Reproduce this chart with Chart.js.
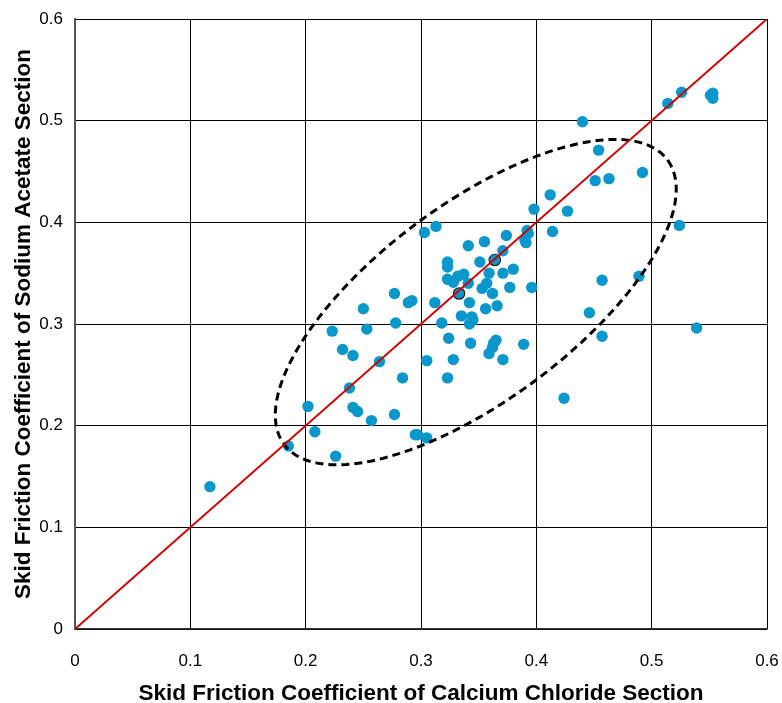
<!DOCTYPE html>
<html>
<head>
<meta charset="utf-8">
<script src="https://cdn.jsdelivr.net/npm/chart.js@4"></script>
<style>
  body { margin: 0; background: #fff; }
  #wrap { width: 782px; height: 703px; }
</style>
</head>
<body>
<div id="wrap"><canvas id="chart"></canvas></div>
<script>
// calcium chloride section (x) vs sodium acetate section (y)
const calciumX = [
  0.117, 0.185, 0.202, 0.208, 0.226, 0.223, 0.232, 0.241, 0.238, 0.241,
  0.245, 0.250, 0.253, 0.257, 0.264, 0.277, 0.278, 0.277, 0.284, 0.289,
  0.292, 0.295, 0.297, 0.303, 0.305, 0.305, 0.313, 0.312, 0.318, 0.323,
  0.323, 0.323, 0.323, 0.328, 0.324, 0.328, 0.332, 0.337, 0.335, 0.341,
  0.341, 0.342, 0.343, 0.344, 0.345, 0.342, 0.351, 0.355, 0.353, 0.357,
  0.356, 0.359, 0.362, 0.366, 0.365, 0.363, 0.362, 0.359, 0.371, 0.371,
  0.371, 0.374, 0.377, 0.380, 0.389, 0.392, 0.393, 0.390, 0.391, 0.396,
  0.398, 0.412, 0.414, 0.427, 0.424, 0.440, 0.446, 0.451, 0.454, 0.457,
  0.457, 0.463, 0.489, 0.492, 0.514, 0.526, 0.524, 0.539, 0.551, 0.553,
  0.553
];
const acetateY = [
  0.140, 0.180, 0.219, 0.194, 0.170, 0.293, 0.275, 0.269, 0.237, 0.218,
  0.214, 0.315, 0.295, 0.205, 0.263, 0.330, 0.301, 0.211, 0.247, 0.321,
  0.323, 0.191, 0.191, 0.390, 0.188, 0.264, 0.396, 0.321, 0.301, 0.247,
  0.361, 0.356, 0.344, 0.341, 0.286, 0.265, 0.347, 0.349, 0.308, 0.377,
  0.340, 0.321, 0.281, 0.307, 0.304, 0.300, 0.361, 0.381, 0.335, 0.340,
  0.315, 0.350, 0.330, 0.318, 0.284, 0.281, 0.277, 0.271, 0.372, 0.350,
  0.265, 0.387, 0.336, 0.354, 0.280, 0.392, 0.389, 0.383, 0.380, 0.336,
  0.413, 0.427, 0.391, 0.411, 0.227, 0.499, 0.311, 0.441, 0.471, 0.343,
  0.288, 0.443, 0.347, 0.449, 0.517, 0.528, 0.397, 0.296, 0.525, 0.527,
  0.522
];
// two points drawn with a dark outline
const outlinedX = [0.333, 0.364];
const outlinedY = [0.330, 0.363];

const refLine = [0, 0.6];
const ticks = [0, 0.1, 0.2, 0.3, 0.4, 0.5, 0.6];

// dashed ellipse: centre, major and minor semi-axis vectors (data units)
const ellCenter = [0.3475, 0.3215];
const ellMajor = [0.1665, 0.1395];
const ellMinor = [0.050, -0.0785];

const points = calciumX.map((x, i) => ({ x: x, y: acetateY[i] }));
const outlined = outlinedX.map((x, i) => ({ x: x, y: outlinedY[i] }));
const diag = refLine.map(v => ({ x: v, y: v }));

const ellipse = [];
for (let k = 0; k <= 120; k++) {
  const t = (k / 120) * Math.PI * 2;
  ellipse.push({
    x: ellCenter[0] + Math.cos(t) * ellMajor[0] + Math.sin(t) * ellMinor[0],
    y: ellCenter[1] + Math.cos(t) * ellMajor[1] + Math.sin(t) * ellMinor[1],
  });
}

const blue = "#0a98cc";
const fontFam = "Liberation Sans, Arial";

new Chart(document.getElementById("chart"), {
  type: "scatter",
  data: {
    datasets: [
      {
        data: diag,
        showLine: true,
        borderColor: "#d40000",
        borderWidth: 2,
        pointRadius: 0,
        order: 0,
      },
      {
        data: ellipse,
        showLine: true,
        borderColor: "#000",
        borderWidth: 3,
        borderDash: [8, 5],
        pointRadius: 0,
        tension: 0,
        order: 0,
      },
      {
        data: points,
        backgroundColor: blue,
        borderWidth: 0,
        pointRadius: 5.7,
        order: 2,
      },
      {
        data: outlined,
        backgroundColor: blue,
        borderColor: "#222",
        borderWidth: 1.2,
        pointRadius: 5.7,
        order: 1,
      },
    ],
  },
  options: {
    responsive: true,
    maintainAspectRatio: false,
    animation: false,
    layout: { padding: { top: 19, right: 15, left: 0, bottom: 0 } },
    plugins: {
      legend: { display: false },
      tooltip: { enabled: false },
    },
    scales: {
      x: {
        type: "linear",
        min: 0,
        max: 0.6,
        afterBuildTicks: (s) => { s.ticks = ticks.map(v => ({ value: v })); },
        afterFit: (s) => { s.height = 74; s.paddingLeft = 0; s.paddingRight = 0; },
        border: { color: "#333", width: 1.5 },
        grid: { color: "#000", lineWidth: 1, drawTicks: false },
        ticks: {
          padding: 22,
          color: "#000",
          font: { family: fontFam, size: 17 },
          callback: (v) => String(v),
        },
        title: {
          display: true,
          text: "Skid Friction Coefficient of Calcium Chloride Section",
          color: "#000",
          font: { family: fontFam, size: 22.5, weight: "bold" },
          padding: { top: 3, bottom: -4 },
        },
      },
      y: {
        type: "linear",
        min: 0,
        max: 0.6,
        afterBuildTicks: (s) => { s.ticks = ticks.map(v => ({ value: v })); },
        afterFit: (s) => { s.width = 75; s.paddingTop = 0; s.paddingBottom = 0; },
        border: { color: "#555", width: 2 },
        grid: { color: "#000", lineWidth: 1, drawTicks: false },
        ticks: {
          padding: 12,
          color: "#000",
          font: { family: fontFam, size: 17 },
          callback: (v) => String(v),
        },
        title: {
          display: true,
          text: "Skid Friction Coefficient of Sodium Acetate Section",
          color: "#000",
          font: { family: fontFam, size: 22.5, weight: "bold" },
          padding: { top: 10, bottom: 0 },
        },
      },
    },
  },
});
</script>
</body>
</html>
